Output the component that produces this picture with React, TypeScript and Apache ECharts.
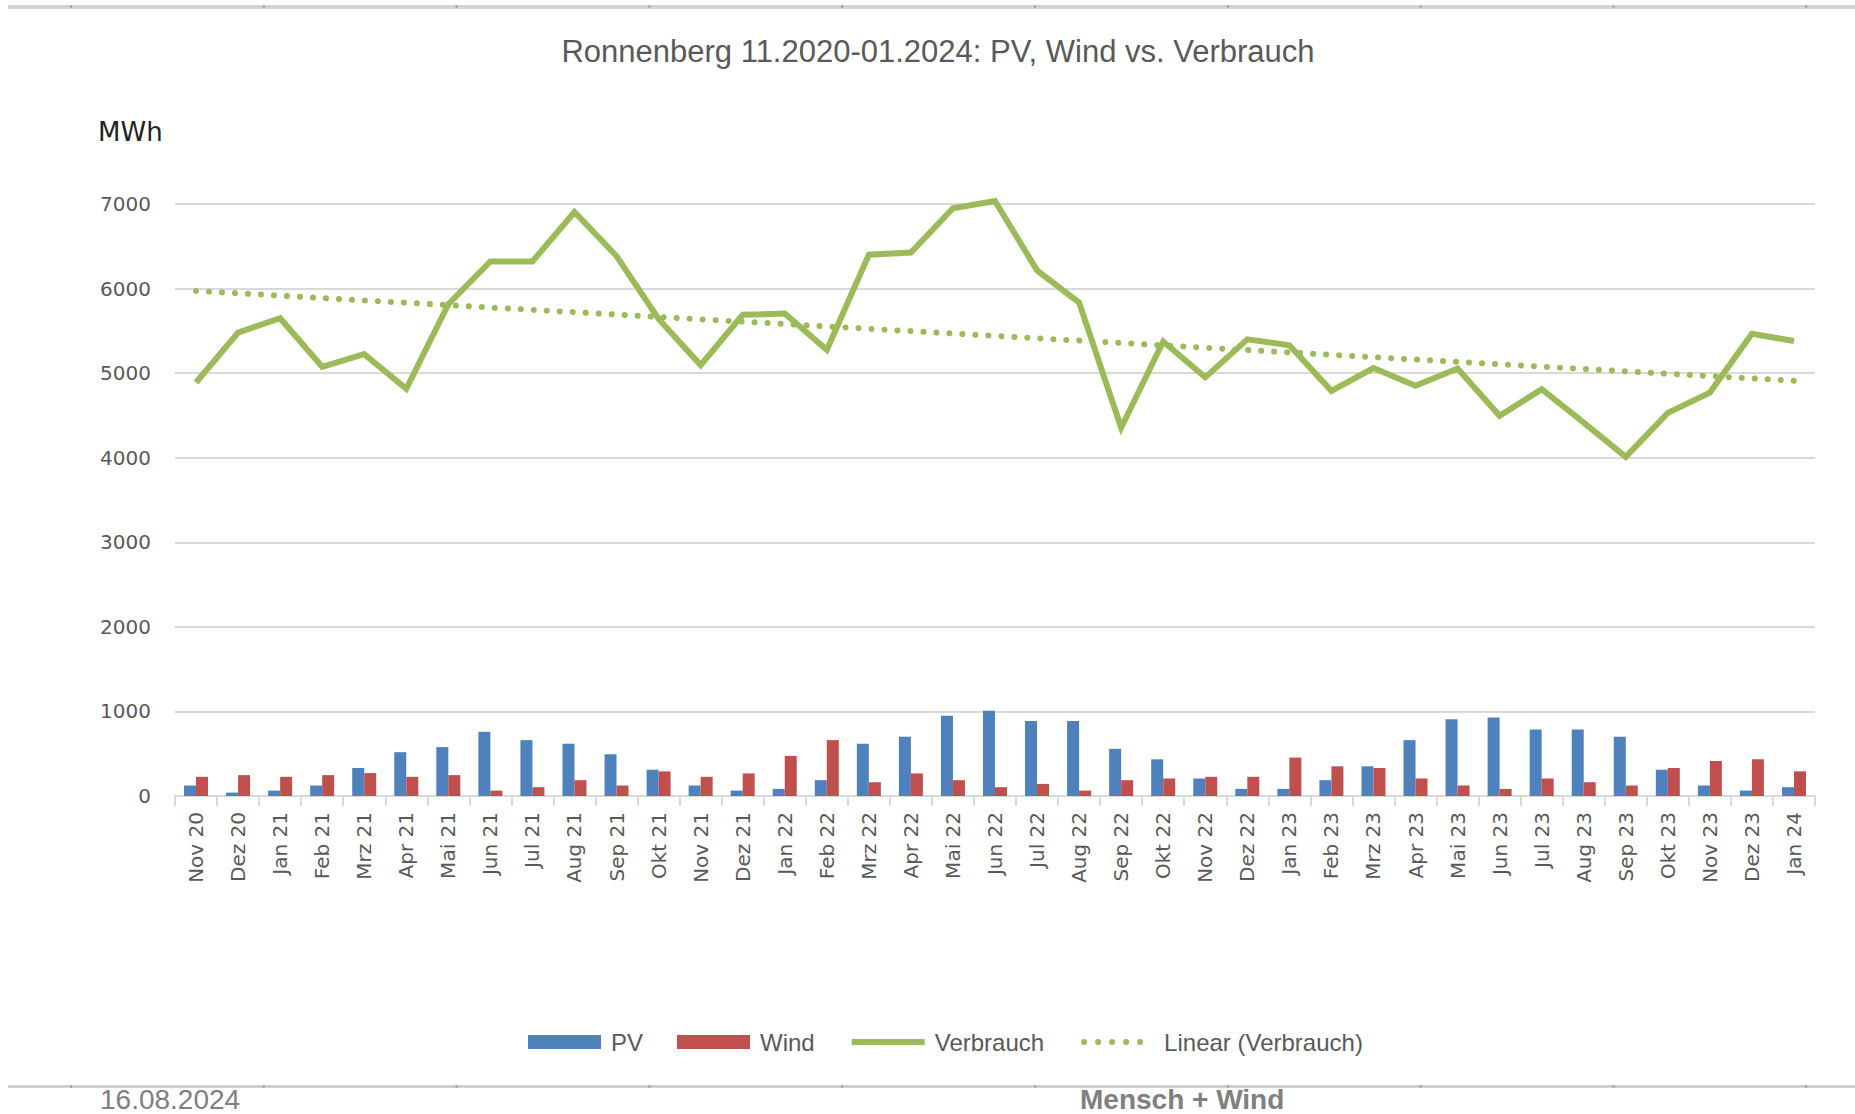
import React, { useEffect, useRef } from 'react';
import * as echarts from 'echarts';

const categories = [
  'Nov 20', 'Dez 20',
  'Jan 21', 'Feb 21', 'Mrz 21', 'Apr 21', 'Mai 21', 'Jun 21', 'Jul 21', 'Aug 21', 'Sep 21', 'Okt 21', 'Nov 21', 'Dez 21',
  'Jan 22', 'Feb 22', 'Mrz 22', 'Apr 22', 'Mai 22', 'Jun 22', 'Jul 22', 'Aug 22', 'Sep 22', 'Okt 22', 'Nov 22', 'Dez 22',
  'Jan 23', 'Feb 23', 'Mrz 23', 'Apr 23', 'Mai 23', 'Jun 23', 'Jul 23', 'Aug 23', 'Sep 23', 'Okt 23', 'Nov 23', 'Dez 23',
  'Jan 24',
];

const pv = [
  124, 40,
  64, 124, 331, 518, 578, 761, 661, 618, 494, 311, 124, 64,
  84, 187, 618, 701, 948, 1008, 888, 888, 558, 434, 207, 84,
  84, 187, 351, 661, 908, 928, 785, 785, 701, 311, 124, 64,
  104,
];

const wind = [
  227, 247,
  227, 247, 271, 227, 247, 64, 104, 187, 124, 291, 227, 267,
  474, 661, 163, 267, 187, 104, 143, 64, 187, 207, 227, 227,
  454, 351, 331, 207, 124, 84, 207, 163, 124, 331, 414, 434,
  291,
];

const verbrauch = [
  4890, 5480,
  5650, 5075, 5225, 4815, 5815, 6320, 6320, 6905, 6385, 5640, 5095, 5690,
  5705, 5275, 6400, 6427, 6950, 7035, 6215, 5835, 4355, 5375, 4950, 5400,
  5330, 4790, 5060, 4850, 5055, 4495, 4810, 4415, 4010, 4530, 4770, 5465,
  5380,
];

const yTicks = [0, 1000, 2000, 3000, 4000, 5000, 6000, 7000];

const titleText = 'Ronnenberg 11.2020-01.2024: PV, Wind vs. Verbrauch';
const unitText = 'MWh';
const footerDate = '16.08.2024';
const footerBrand = 'Mensch + Wind';
const seriesNames = ['PV', 'Wind', 'Verbrauch', 'Linear (Verbrauch)'];

// Least-squares linear trend (Excel "Linear" trendline) computed from the data
function linearTrend(values: number[]): number[] {
  const n = values.length;
  const mx = (n - 1) / 2;
  const my = values.reduce((a, b) => a + b, 0) / n;
  let sxy = 0;
  let sxx = 0;
  values.forEach((v, i) => {
    sxy += (i - mx) * (v - my);
    sxx += (i - mx) * (i - mx);
  });
  const slope = sxy / sxx;
  return values.map((_, i) => Math.round((my + slope * (i - mx)) * 10) / 10);
}

export default function App() {
  const ref = useRef<HTMLDivElement>(null);

  useEffect(() => {
    document.body.style.margin = '0';
    const chart = echarts.init(ref.current as HTMLDivElement, null, { renderer: 'svg' });
    const trend = linearTrend(verbrauch);

    const bandMarks: any[] = [];
    for (let i = 0; i < 10; i++) {
      const x = 70 + i * 192.8;
      bandMarks.push({ type: 'rect', shape: { x, y: 5, width: 2, height: 3 }, style: { fill: '#a8a8a8' }, silent: true });
      bandMarks.push({ type: 'rect', shape: { x, y: 1085, width: 2, height: 3 }, style: { fill: '#a8a8a8' }, silent: true });
    }

    const option: any = {
      animation: false,
      backgroundColor: '#ffffff',
      grid: { left: 175, right: 40, top: 204, bottom: 318, containLabel: false },
      legend: {
        left: 528,
        top: 1030,
        padding: 0,
        itemWidth: 73,
        itemHeight: 14,
        itemGap: 34,
        textStyle: { fontFamily: 'Liberation Sans', fontSize: 24, color: '#595959', padding: [0, 0, 0, 5] },
        data: [
          { name: seriesNames[0], icon: 'rect' },
          { name: seriesNames[1], icon: 'rect' },
          { name: seriesNames[2], itemStyle: { opacity: 0 }, lineStyle: { width: 6, color: '#9BBB59' } },
          {
            name: seriesNames[3],
            itemStyle: { opacity: 0 },
            lineStyle: { width: 6, color: '#9BBB59', type: [0.01, 14], cap: 'round', dashOffset: -3 },
          },
        ],
      },
      xAxis: {
        type: 'category',
        data: categories,
        boundaryGap: true,
        axisLine: { lineStyle: { color: '#d9d9d9', width: 2 } },
        axisTick: { show: true, length: 10, lineStyle: { color: '#d9d9d9', width: 2 } },
        axisLabel: {
          rotate: 90,
          interval: 0,
          margin: 16,
          fontFamily: 'DejaVu Sans',
          fontSize: 20,
          color: '#595959',
        },
      },
      yAxis: {
        type: 'value',
        min: yTicks[0],
        max: yTicks[yTicks.length - 1],
        interval: 1000,
        axisLine: { show: false },
        axisTick: { show: false },
        splitLine: { lineStyle: { color: '#d9d9d9', width: 2 } },
        axisLabel: {
          margin: 24,
          fontFamily: 'DejaVu Sans',
          fontSize: 20,
          color: '#595959',
          formatter: (v: number) => String(v),
        },
      },
      series: [
        {
          name: seriesNames[0],
          type: 'bar',
          data: pv,
          barWidth: 12,
          barGap: '0%',
          itemStyle: { color: '#4F81BD' },
        },
        {
          name: seriesNames[1],
          type: 'bar',
          data: wind,
          barWidth: 12,
          barGap: '0%',
          itemStyle: { color: '#C0504D' },
        },
        {
          name: seriesNames[2],
          type: 'line',
          data: verbrauch,
          symbol: 'none',
          clip: false,
          z: 4,
          itemStyle: { color: '#9BBB59' },
          lineStyle: { color: '#9BBB59', width: 6, join: 'miter' },
        },
        {
          name: seriesNames[3],
          type: 'line',
          data: trend,
          symbol: 'none',
          clip: false,
          z: 3,
          itemStyle: { color: '#9BBB59' },
          lineStyle: { color: '#9BBB59', width: 6, type: [0.01, 13], cap: 'round' },
        },
      ],
      graphic: [
        { type: 'rect', shape: { x: 8, y: 5, width: 1847, height: 4 }, style: { fill: '#d3d3d3' }, silent: true },
        { type: 'rect', shape: { x: 8, y: 1085, width: 1847, height: 3 }, style: { fill: '#cfcfcf' }, silent: true },
        ...bandMarks,
        {
          type: 'text',
          x: 938,
          y: 51,
          style: {
            text: titleText,
            fontFamily: 'Liberation Sans',
            fontSize: 31,
            fill: '#595959',
            textAlign: 'center',
            textVerticalAlign: 'middle',
          },
        },
        {
          type: 'text',
          x: 98,
          y: 132,
          style: {
            text: unitText,
            fontFamily: 'DejaVu Sans',
            fontSize: 26,
            fill: '#222222',
            textAlign: 'left',
            textVerticalAlign: 'middle',
          },
        },
        {
          type: 'text',
          x: 100,
          y: 1099,
          style: {
            text: footerDate,
            fontFamily: 'Liberation Sans',
            fontSize: 28,
            fill: '#7f7f7f',
            textAlign: 'left',
            textVerticalAlign: 'middle',
          },
        },
        {
          type: 'text',
          x: 1080,
          y: 1099,
          style: {
            text: footerBrand,
            fontFamily: 'Liberation Sans',
            fontSize: 28,
            fontWeight: 'bold',
            fill: '#7f7f7f',
            textAlign: 'left',
            textVerticalAlign: 'middle',
          },
        },
      ],
    };

    chart.setOption(option);
    return () => chart.dispose();
  }, []);

  return <div ref={ref} style={{ width: 1855, height: 1114, background: '#ffffff' }} />;
}
